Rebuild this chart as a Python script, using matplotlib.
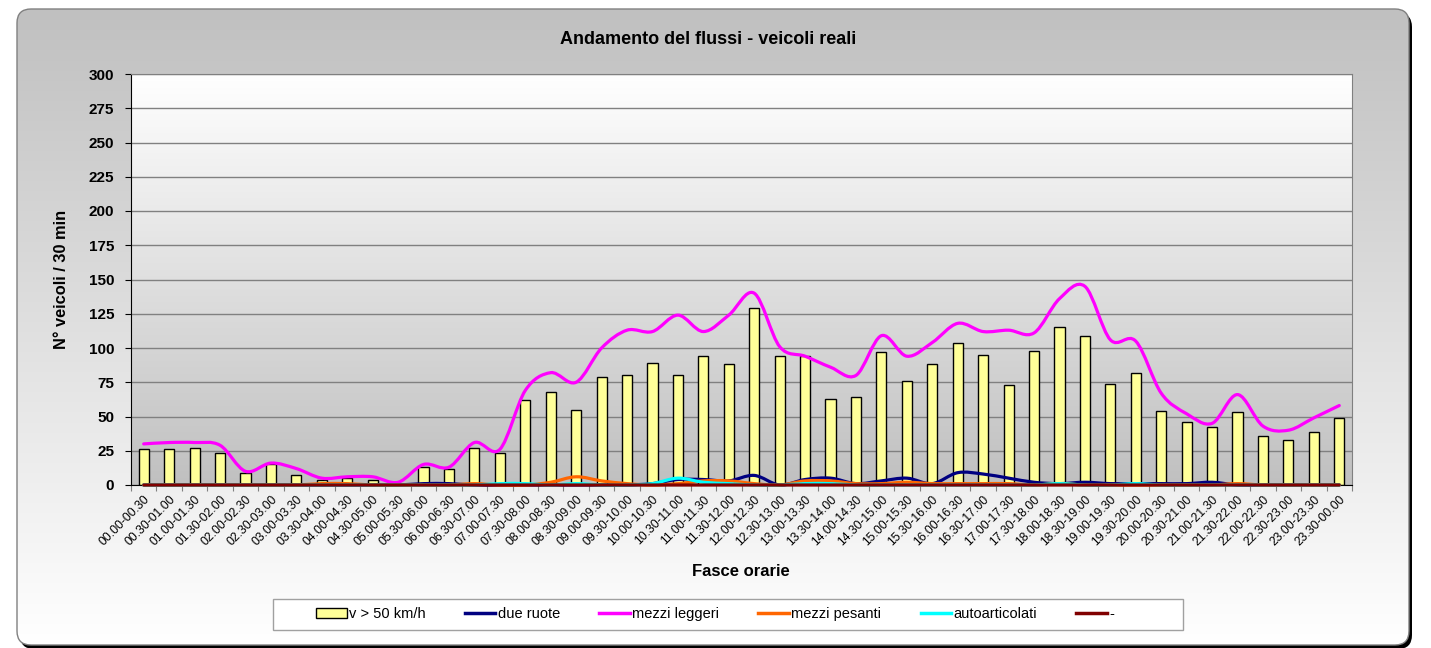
import numpy as np
import matplotlib
matplotlib.use("Agg")
import matplotlib.pyplot as plt
from matplotlib.path import Path
from matplotlib.patches import PathPatch, FancyBboxPatch, Rectangle
from matplotlib.lines import Line2D
from matplotlib.colors import to_rgb

plt.rcParams['font.family'] = ['Liberation Sans', 'DejaVu Sans']

# --- data -------------------------------------------------------------
fasce = ['%02d.%02d-%02d.%02d' % (i // 2, 30 * (i % 2), ((i + 1) // 2) % 24, 30 * ((i + 1) % 2))
         for i in range(48)]

v_oltre_50 = [26, 26, 27, 23, 9, 15, 7, 4, 5, 4, 1, 13, 12, 27, 23, 62, 68, 55, 79, 80, 89, 80, 94, 88,
              129, 94, 94, 63, 64, 97, 76, 88, 104, 95, 73, 98, 115, 109, 74, 82, 54, 46, 42, 53, 36, 33, 39, 49]
due_ruote = [0, 0, 0, 0, 0, 0, 0, 0, 0, 0, 0, 1, 1, 0, 0, 0, 0, 0, 0, 0, 1, 4, 4, 3,
             7, 0, 4, 5, 1, 3, 5, 1, 9, 8, 5, 2, 1, 2, 1, 1, 1, 1, 2, 0, 0, 0, 0, 0]
mezzi_leggeri = [30, 31, 31, 29, 10, 16, 12, 5, 6, 6, 2, 15, 13, 31, 26, 69, 82, 75, 100, 113, 112, 124, 112, 124,
                 140, 101, 94, 86, 80, 109, 94, 104, 118, 112, 113, 111, 136, 145, 106, 105, 67, 52, 45, 66, 43, 40, 49, 58]
mezzi_pesanti = [0, 0, 0, 0, 0, 0, 0, 1, 1, 0, 0, 0, 0, 1, 0, 0, 2, 6, 3, 1, 0, 1, 3, 3,
                 1, 0, 3, 3, 1, 1, 2, 1, 1, 1, 1, 0, 1, 0, 0, 0, 0, 0, 0, 1, 0, 0, 0, 0]
autoarticolati = [0, 0, 0, 0, 0, 0, 0, 0, 0, 0, 0, 0, 0, 0, 1, 1, 0, 1, 0, 0, 1, 5, 2, 1,
                  0, 0, 1, 1, 0, 0, 0, 0, 0, 0, 0, 0, 1, 0, 0, 1, 0, 0, 0, 0, 0, 0, 0, 0]
trattino = [0] * 48

serie = [('due ruote', due_ruote, '#000080'),
         ('mezzi leggeri', mezzi_leggeri, '#ff00ff'),
         ('mezzi pesanti', mezzi_pesanti, '#ff6600'),
         ('autoarticolati', autoarticolati, '#00ffff'),
         ('-', trattino, '#800000')]


def smooth_path(x, y):
    # Excel-like smoothed line: cubic bezier through every point
    x = np.asarray(x, float)
    y = np.asarray(y, float)
    verts = [(x[0], y[0])]
    codes = [Path.MOVETO]
    n = len(x)
    for i in range(n - 1):
        p0 = np.array([x[max(i - 1, 0)], y[max(i - 1, 0)]])
        p1 = np.array([x[i], y[i]])
        p2 = np.array([x[i + 1], y[i + 1]])
        p3 = np.array([x[min(i + 2, n - 1)], y[min(i + 2, n - 1)]])
        c1 = p1 + (p2 - p0) / 6.0
        c2 = p2 - (p3 - p1) / 6.0
        verts += [tuple(c1), tuple(c2), tuple(p2)]
        codes += [Path.CURVE4] * 3
    return Path(verts, codes)


def vgrad(c_top, c_bot, n=256):
    t = np.linspace(0, 1, n)[:, None]
    a, b = np.array(to_rgb(c_top)), np.array(to_rgb(c_bot))
    return (a + (b - a) * t)[:, None, :]


W, H = 1431, 648
fig = plt.figure(figsize=(W / 100, H / 100), dpi=100)
fig.patch.set_facecolor('white')

# background frame in pixel coordinates
bg = fig.add_axes([0, 0, 1, 1], zorder=-10)
bg.axis('off')
bx0, by0, bx1, by1 = 17, 9, 1409, 645
shadow = FancyBboxPatch((bx0 + 3, by0 + 4), bx1 - bx0, by1 - by0,
                        boxstyle='round,pad=0,rounding_size=14', fc='black', ec='none', zorder=0)
bg.add_patch(shadow)
im = bg.imshow(vgrad('#c0c0c0', '#ffffff'), extent=(bx0, bx1, by1, by0), aspect='auto',
               interpolation='bilinear', zorder=1)
frame = FancyBboxPatch((bx0, by0), bx1 - bx0, by1 - by0,
                       boxstyle='round,pad=0,rounding_size=14', fc='none', ec='#808080', lw=1, zorder=2)
bg.add_patch(frame)
im.set_clip_path(frame)
bg.add_patch(Rectangle((273, 599), 910, 31, fc='white', ec='#a0a0a0', lw=1, zorder=3))
bg.set_xlim(0, W)
bg.set_ylim(H, 0)

# plot area
ax = fig.add_axes([131 / W, 1 - 485 / H, (1352 - 131) / W, (485 - 74) / H])
ax.set_facecolor('none')
x = np.arange(len(fasce))
ax.set_xlim(-0.5, len(fasce) - 0.5)
ax.set_ylim(0, 300)
ax.imshow(vgrad('#ffffff', '#c0c0c0'), extent=(-0.5, len(fasce) - 0.5, 0, 300),
          aspect='auto', zorder=0, interpolation='bilinear')

ax.set_yticks(np.arange(0, 301, 25))
ax.yaxis.grid(True, color='#808080', lw=1)
ax.set_axisbelow(True)

bars = ax.bar(x, v_oltre_50, width=0.4, color='#ffff99', edgecolor='black', lw=1, zorder=2)

handles = [Rectangle((0, 0), 1, 1, fc='#ffff99', ec='black', lw=1)]
labels = ['v > 50 km/h']
for nome, vals, col in serie:
    ax.add_patch(PathPatch(smooth_path(x, vals), fc='none', ec=col, lw=2.3,
                           zorder=3, clip_on=False, capstyle='round'))
    handles.append(Line2D([], [], color=col, lw=2.5))
    labels.append(nome)

ax.set_xticks(np.arange(-0.5, len(fasce), 1))
ax.set_xticklabels([])
ax.set_xticks(x, minor=True)
ax.set_xticklabels(fasce, minor=True, rotation=45, ha='right', va='top',
                   rotation_mode='anchor', fontsize=8.7)
ax.tick_params(axis='x', which='major', length=4, color='#808080', direction='out')
ax.tick_params(axis='x', which='minor', length=0, pad=6)
ax.tick_params(axis='y', length=4, direction='out', pad=8, labelsize=11)
for t in ax.get_yticklabels():
    t.set_fontweight('bold')

for s in ['top', 'right']:
    ax.spines[s].set_color('#808080')
for s in ['left', 'bottom']:
    ax.spines[s].set_color('black')

ax.set_ylabel('N° veicoli / 30 min', fontsize=11.8, fontweight='bold', labelpad=14)
fig.text(741 / W, 1 - 572 / H, 'Fasce orarie', fontsize=12, fontweight='bold',
         ha='center', va='center')
fig.text(708 / W, 1 - 40 / H, 'Andamento del flussi - veicoli reali', fontsize=13,
         fontweight='bold', ha='center', va='center')

fig.legend(handles, labels, loc='center', bbox_to_anchor=(715 / W, 1 - 614 / H), ncol=6,
           frameon=False, fontsize=10.5, handlelength=2.1, handletextpad=0.15,
           columnspacing=2.7)

fig.savefig('out.png', dpi=100)
